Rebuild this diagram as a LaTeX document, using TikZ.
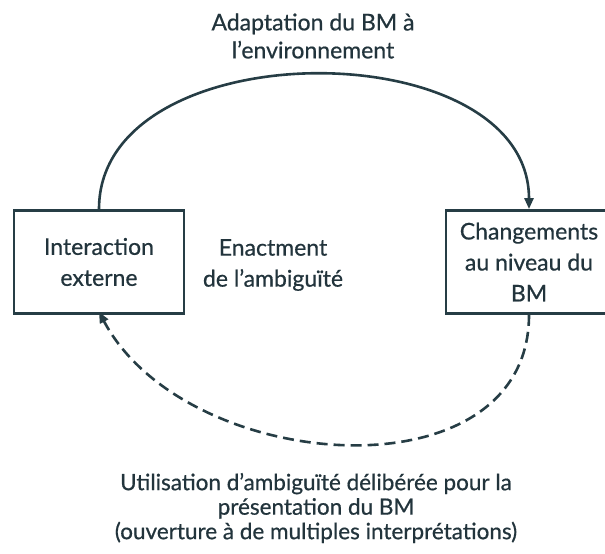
\documentclass[tikz,border=0pt]{standalone}
\usepackage{fontspec}
\setmainfont{Lato}[UprightFeatures={FakeBold=0.6}]
\usetikzlibrary{positioning, arrows.meta}
\definecolor{slateline}{HTML}{263D45}
\definecolor{slatetext}{HTML}{22343C}

\begin{document}
\begin{tikzpicture}[
    x=1pt, y=-1pt,
    >={Triangle[length=11pt, width=9pt]},
    every node/.style={text=slatetext, align=center},
    boxstate/.style={draw=slateline, line width=2.8pt, minimum height=103pt, inner sep=2pt},
    every edge/.style={draw=slateline, ->, line width=2.6pt},
    bodyfont/.style={font=\fontsize{23}{31}\selectfont}
]
    \useasboundingbox (0,0) rectangle (605,554);
    \clip (0,0) rectangle (605,554);

    % --- STATE BOXES ---
    \node[boxstate, bodyfont, minimum width=170pt] (interact) at (99,262) {Interaction\\externe};
    \node[boxstate, bodyfont, minimum width=166pt] (change) at (529,262) {Changements\\au niveau du\\BM};

    % --- CENTRE LABEL ---
    \node[bodyfont] (enact) at (273,265) {Enactment\\de l'ambiguïté};

    % --- LOOP LABELS ---
    \node[font=\fontsize{23}{28}\selectfont] (adapt) at (313,36) {Adaptation du BM à\\l'environnement};
    \node[font=\fontsize{22.5}{24.5}\selectfont] (utilis) at (316,508)
        {Utilisation d'ambiguïté délibérée pour la\\présentation du BM\\(ouverture à de multiples interprétations)};

    % --- TRANSITIONS ---
    \path
        (interact.north) edge[out=90, in=90, looseness=1.07] (change.north)
        (change.south) edge[dash pattern=on 11pt off 6pt, out=-90, in=-62, looseness=1.1] ([yshift=3pt]interact.south);

\end{tikzpicture}
\end{document}
